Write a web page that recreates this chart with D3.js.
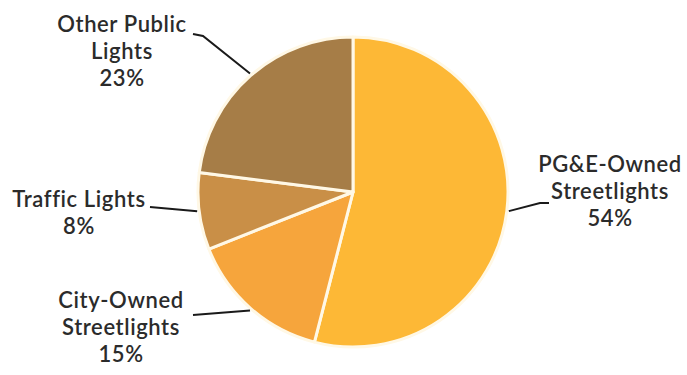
<!DOCTYPE html>
<html lang="en">
<head>
    <meta charset="UTF-8">
    <title>Streetlight Share Pie</title>
    <script src="https://d3js.org/d3.v7.min.js"></script>
    <style>
        body { margin: 0; background: #fff; }
        .label { font-family: "Lato", "Open Sans", sans-serif; font-size: 22px; letter-spacing: 0.6px; fill: #2b2b2b; font-weight: 600; }
        .leader { stroke: #1a1a1a; stroke-width: 2px; fill: none; }
    </style>
</head>
<body>
    <svg id="chart"></svg>
    <script>
        // data
        const categories = ['PG&E-Owned Streetlights', 'City-Owned Streetlights', 'Traffic Lights', 'Other Public Lights'];
        const shares = [54, 15, 8, 23];
        const colors = ['#FDB836', '#F6A53C', '#C98F47', '#A67D47'];
        // label text lines per slice
        const labelLines = [
            ['PG&E-Owned', 'Streetlights', '54%'],
            ['City-Owned', 'Streetlights', '15%'],
            ['Traffic Lights', '8%'],
            ['Other Public', 'Lights', '23%']
        ];

        const width = 687, height = 375;
        const cx = 353, cy = 192, radius = 155;

        const svg = d3.select('#chart')
            .attr('width', width)
            .attr('height', height);

        const pie = d3.pie().sort(null).value(d => d);
        const arcs = pie(shares);
        const arc = d3.arc().innerRadius(0).outerRadius(radius);

        const g = svg.append('g').attr('transform', `translate(${cx},${cy})`);

        g.selectAll('path.slice')
            .data(arcs)
            .join('path')
            .attr('class', 'slice')
            .attr('d', arc)
            .attr('fill', (d, i) => colors[i])
            .attr('stroke', '#FFF8E6')
            .attr('stroke-width', 3)
            .attr('stroke-linejoin', 'round');

        // label layout: angle (deg, clockwise from top) where the leader touches the pie,
        // leader points after it (relative to centre) and text anchor point
        const layout = [
            { ang: 97, pts: [[187, 11], [196, 11]], text: [610, 172] },
            { ang: 221, pts: [[-160, 123]], text: [121, 308] },
            { ang: 263, pts: [[-203, 15]], text: [79, 207] },
            { ang: 319, pts: [[-150, -156], [-160, -158]], text: [122, 32] }
        ];

        arcs.forEach((a, i) => {
            const L = layout[i];
            const t = L.ang * Math.PI / 180;
            const start = [Math.sin(t) * (radius + 2), -Math.cos(t) * (radius + 2)];
            g.append('path')
                .attr('class', 'leader')
                .attr('d', d3.line()([start, ...L.pts]));

            const txt = svg.append('text')
                .attr('class', 'label')
                .attr('text-anchor', 'middle');
            labelLines[i].forEach((s, k) => {
                txt.append('tspan')
                    .attr('x', L.text[0])
                    .attr('y', L.text[1] + k * 27)
                    .text(s);
            });
        });
    </script>
</body>
</html>
